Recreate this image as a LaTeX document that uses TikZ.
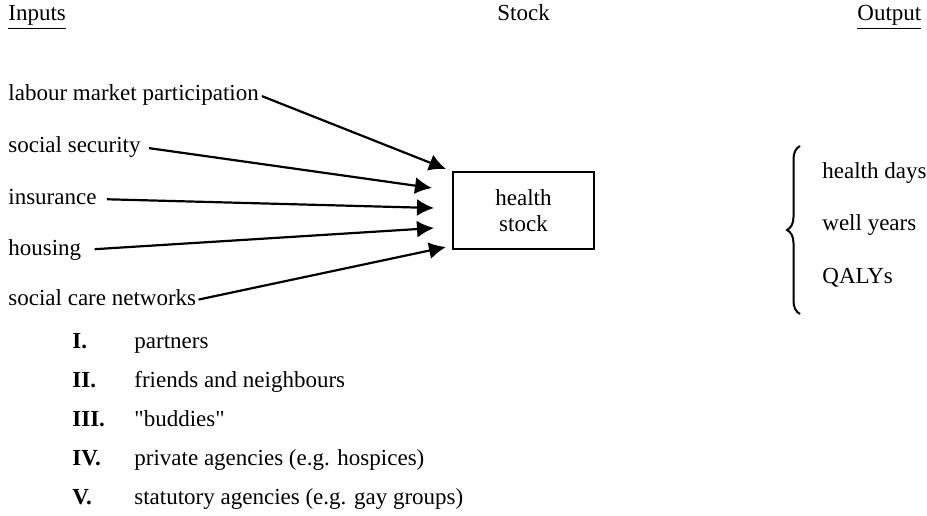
\documentclass[tikz,border=0pt]{standalone}
\usepackage{fontspec}
\setmainfont{Liberation Serif}
\usetikzlibrary{arrows.meta, positioning, decorations.pathreplacing}
\tikzset{
  lbl/.style={anchor=west, inner sep=0pt, text height=8pt, text depth=2.5pt,
    font=\fontsize{11.5}{13}\selectfont},
  num/.style={lbl, font=\fontsize{11.5}{13}\selectfont\bfseries},
  feed/.style={-{Latex[length=8.5pt,width=8.5pt]}, line width=1.1pt}}

\begin{document}
\begin{tikzpicture}[x=0.5pt, y=-0.5pt]
\useasboundingbox (0,0) rectangle (927,515);
% headings
\node[lbl] (inp) at (8,15) {\underline{Inputs}};
\node[lbl] (stk) at (497,15) {Stock};
\node[lbl] (outp) at (857,15) {\underline{Output}};
% inputs
\node[lbl] (lab) at (8,95) {labour market participation};
\node[lbl] (soc) at (8,147) {social security};
\node[lbl] (ins) at (8,199) {insurance};
\node[lbl] (hou) at (8,250) {housing};
\node[lbl] (net) at (8,300) {social care networks};
% networks list
\node[num] (n1) at (72,343) {I.};   \node[lbl] (m1) at (134,343) {partners};
\node[num] (n2) at (72,382) {II.};  \node[lbl] (m2) at (134,382) {friends and neighbours};
\node[num] (n3) at (72,421) {III.}; \node[lbl] (m3) at (134,421) {\textquotedbl buddies\textquotedbl};
\node[num] (n4) at (72,460) {IV.};  \node[lbl] (m4) at (134,460) {private agencies (e.g. hospices)};
\node[num] (n5) at (72,499) {V.};   \node[lbl] (m5) at (134,499) {statutory agencies (e.g. gay groups)};
% stock
\node[draw, line width=0.8pt, minimum width=70.5pt, minimum height=38.5pt, align=center,
  font=\fontsize{11.5}{13}\selectfont] (hs) at (523.5,210.5) {health\\stock};
\coordinate (t1) at (446,169);
\coordinate (t2) at (432,188);
\coordinate (t3) at (434,208);
\coordinate (t4) at (434,228);
\coordinate (t5) at (446,247);
\draw[feed, shorten <=1.5pt] (lab.east) -- (t1);
\draw[feed, shorten <=4pt] (soc.east) -- (t2);
\draw[feed, shorten <=5pt] (ins.east) -- (t3);
\draw[feed, shorten <=6.5pt] (hou.east) -- (t4);
\draw[feed, shorten <=1pt] (net.east) -- (t5);
% output
\node[lbl] (hd) at (822,173) {health days};
\node[lbl] (wy) at (822,225) {well years};
\node[lbl] (qa) at (822,278) {QALYs};
\coordinate (bt) at (800,146);
\coordinate (bb) at (800,314);
\draw[line width=1pt, decorate, decoration={brace, amplitude=6.5pt}] (bb) -- (bt);
\end{tikzpicture}
\end{document}
